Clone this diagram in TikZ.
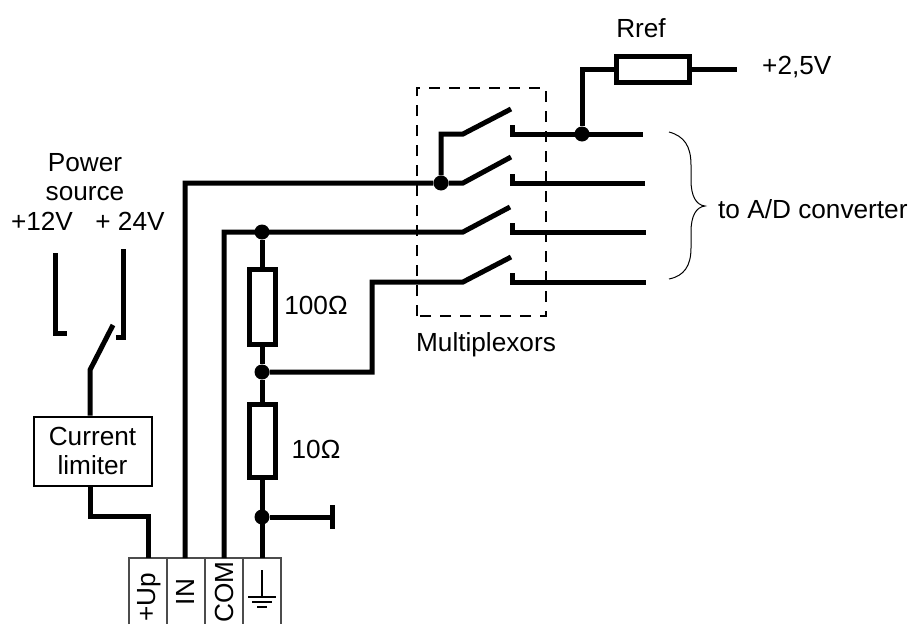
\documentclass[tikz,border=0pt]{standalone}
\usepackage{fontspec}
\setmainfont{Liberation Sans}
\tikzset{
    wire/.style = {line width=5pt, line cap=butt, line join=miter},
    junction/.style = {circle, fill=black, inner sep=0pt, minimum size=15pt},
    resistor/.style = {draw, line width=5pt, fill=white, inner sep=0pt},
    limiterbox/.style = {draw, line width=2pt, inner sep=0pt, align=center, minimum width=118pt, minimum height=69pt},
    label/.style = {inner sep=0pt, align=center}
}
\begin{document}
\begin{tikzpicture}[x=1pt, y=-1pt, font=\fontsize{26.2}{30}\selectfont]
    \useasboundingbox (0, 0) rectangle (913, 624);
    % terminal block
    \draw[line width=1.2pt, black!70] (129, 624) |- (281, 558) -- (281, 624);
    \draw[line width=1.2pt, black!70] (167, 558) -- (167, 624) (205, 558) -- (205, 624) (243, 558) -- (243, 624);
    \coordinate (up) at (148, 558);
    \coordinate (in) at (185, 558);
    \coordinate (com) at (224, 558);
    \coordinate (gnd) at (262, 558);
    \node[label, rotate=90] (uplabel) at (149, 597) {+Up};
    \node[label, rotate=90] (inlabel) at (185, 592) {IN};
    \node[label, rotate=90] (comlabel) at (224, 592) {COM};
    % earth symbol
    \coordinate (earth) at (262, 597);
    \draw[line width=1.3pt] (262, 570) -- (earth);
    \draw[line width=2.2pt] (248, 597) -- (276, 597) (252, 602) -- (272, 602) (257, 607) -- (267, 607);
    % power side
    \node[label] (power) at (85, 177) {Power\\[-1pt]source};
    \node[label] (plus12) at (42, 221) {+12V};
    \node[label] (plus24) at (130, 221) {+ 24V};
    \coordinate (c12) at (55, 253);
    \coordinate (c24) at (123, 249);
    \draw[wire] (c12) |- (67, 333);
    \draw[wire] (c24) |- (116, 337);
    \node[limiterbox] (limiter) at (92.5, 451) {Current\\[-1pt]limiter};
    \coordinate (pivot) at (90, 370);
    \coordinate (throw) at (113, 325);
    \draw[wire] (limiter.north -| pivot) -- (pivot) -- (throw);
    \draw[wire] (limiter.south -| pivot) -- (90, 516) -| (up);
    % resistors
    \node[resistor, minimum width=26pt, minimum height=75pt] (r100) at (262, 306.5) {};
    \node[resistor, minimum width=26pt, minimum height=73pt] (r10) at (262, 440.5) {};
    \node[resistor, minimum width=73pt, minimum height=26pt] (rref) at (652.5, 69) {};
    \node[label] (r100label) at (316, 305) {100Ω};
    \node[label] (r10label) at (316, 449) {10Ω};
    \node[label] (rreflabel) at (641, 28) {Rref};
    \node[label, anchor=west] (vref) at (762, 67) {+2,5V};
    % inputs of the multiplexors
    \coordinate (s1) at (463, 134);
    \coordinate (s2) at (463, 183);
    \coordinate (s3) at (463, 232);
    \coordinate (s4) at (463, 282);
    \coordinate (t1) at (511, 109);
    \coordinate (t2) at (511, 157);
    \coordinate (t3) at (510, 207);
    \coordinate (t4) at (511, 257);
    \node[junction] (jin) at (441, 183) {};
    \node[junction] (jcom) at (262, 232) {};
    \node[junction] (jmid) at (262, 372) {};
    \node[junction] (jgnd) at (262, 517) {};
    \node[junction] (jref) at (582, 134) {};
    \draw[wire] (in) |- (jin) -- (s2) -- (t2);
    \draw[wire] (jin) |- (s1) -- (t1);
    \draw[wire] (com) |- (s3) -- (t3);
    \draw[wire] (jmid) -| (372, 282) -- (s4) -- (t4);
    \draw[wire] (jcom) -- (r100) -- (jmid) -- (r10) -- (gnd);
    \draw[wire] (jgnd) -- (332, 517);
    \draw[wire] (332, 505) -- (332, 529);
    % outputs
    \coordinate (o1) at (643, 134);
    \coordinate (o2) at (645, 183);
    \coordinate (o3) at (646, 232);
    \coordinate (o4) at (646, 282);
    \foreach \n/\h in {1/134, 2/183, 3/232, 4/282} {
        \draw[wire] (512, \h - 9) -- (512, \h) -- (o\n);
    }
    \draw[wire] (jref) |- (rref.west);
    \draw[wire] (rref.east) -- (737, 69);
    \draw[line width=1.7pt, dash pattern=on 11pt off 9pt] (417, 316) -- (417, 88) -- (546, 88) -- (546, 316) -- cycle;
    \node[label] (mux) at (486, 345) {Multiplexors};
    % brace
    \coordinate (tip) at (705, 206);
    \draw[line width=1pt] (669, 132) .. controls (684, 136) and (691, 146) .. (691, 165)
        -- (691, 180) .. controls (691, 196) and (696, 205) .. (tip)
        .. controls (696, 207) and (691, 216) .. (691, 232)
        -- (691, 248) .. controls (691, 266) and (684, 276) .. (669, 279);
    \node[label, anchor=west] (adc) at (718, 209) {to A/D converter};
\end{tikzpicture}
\end{document}
